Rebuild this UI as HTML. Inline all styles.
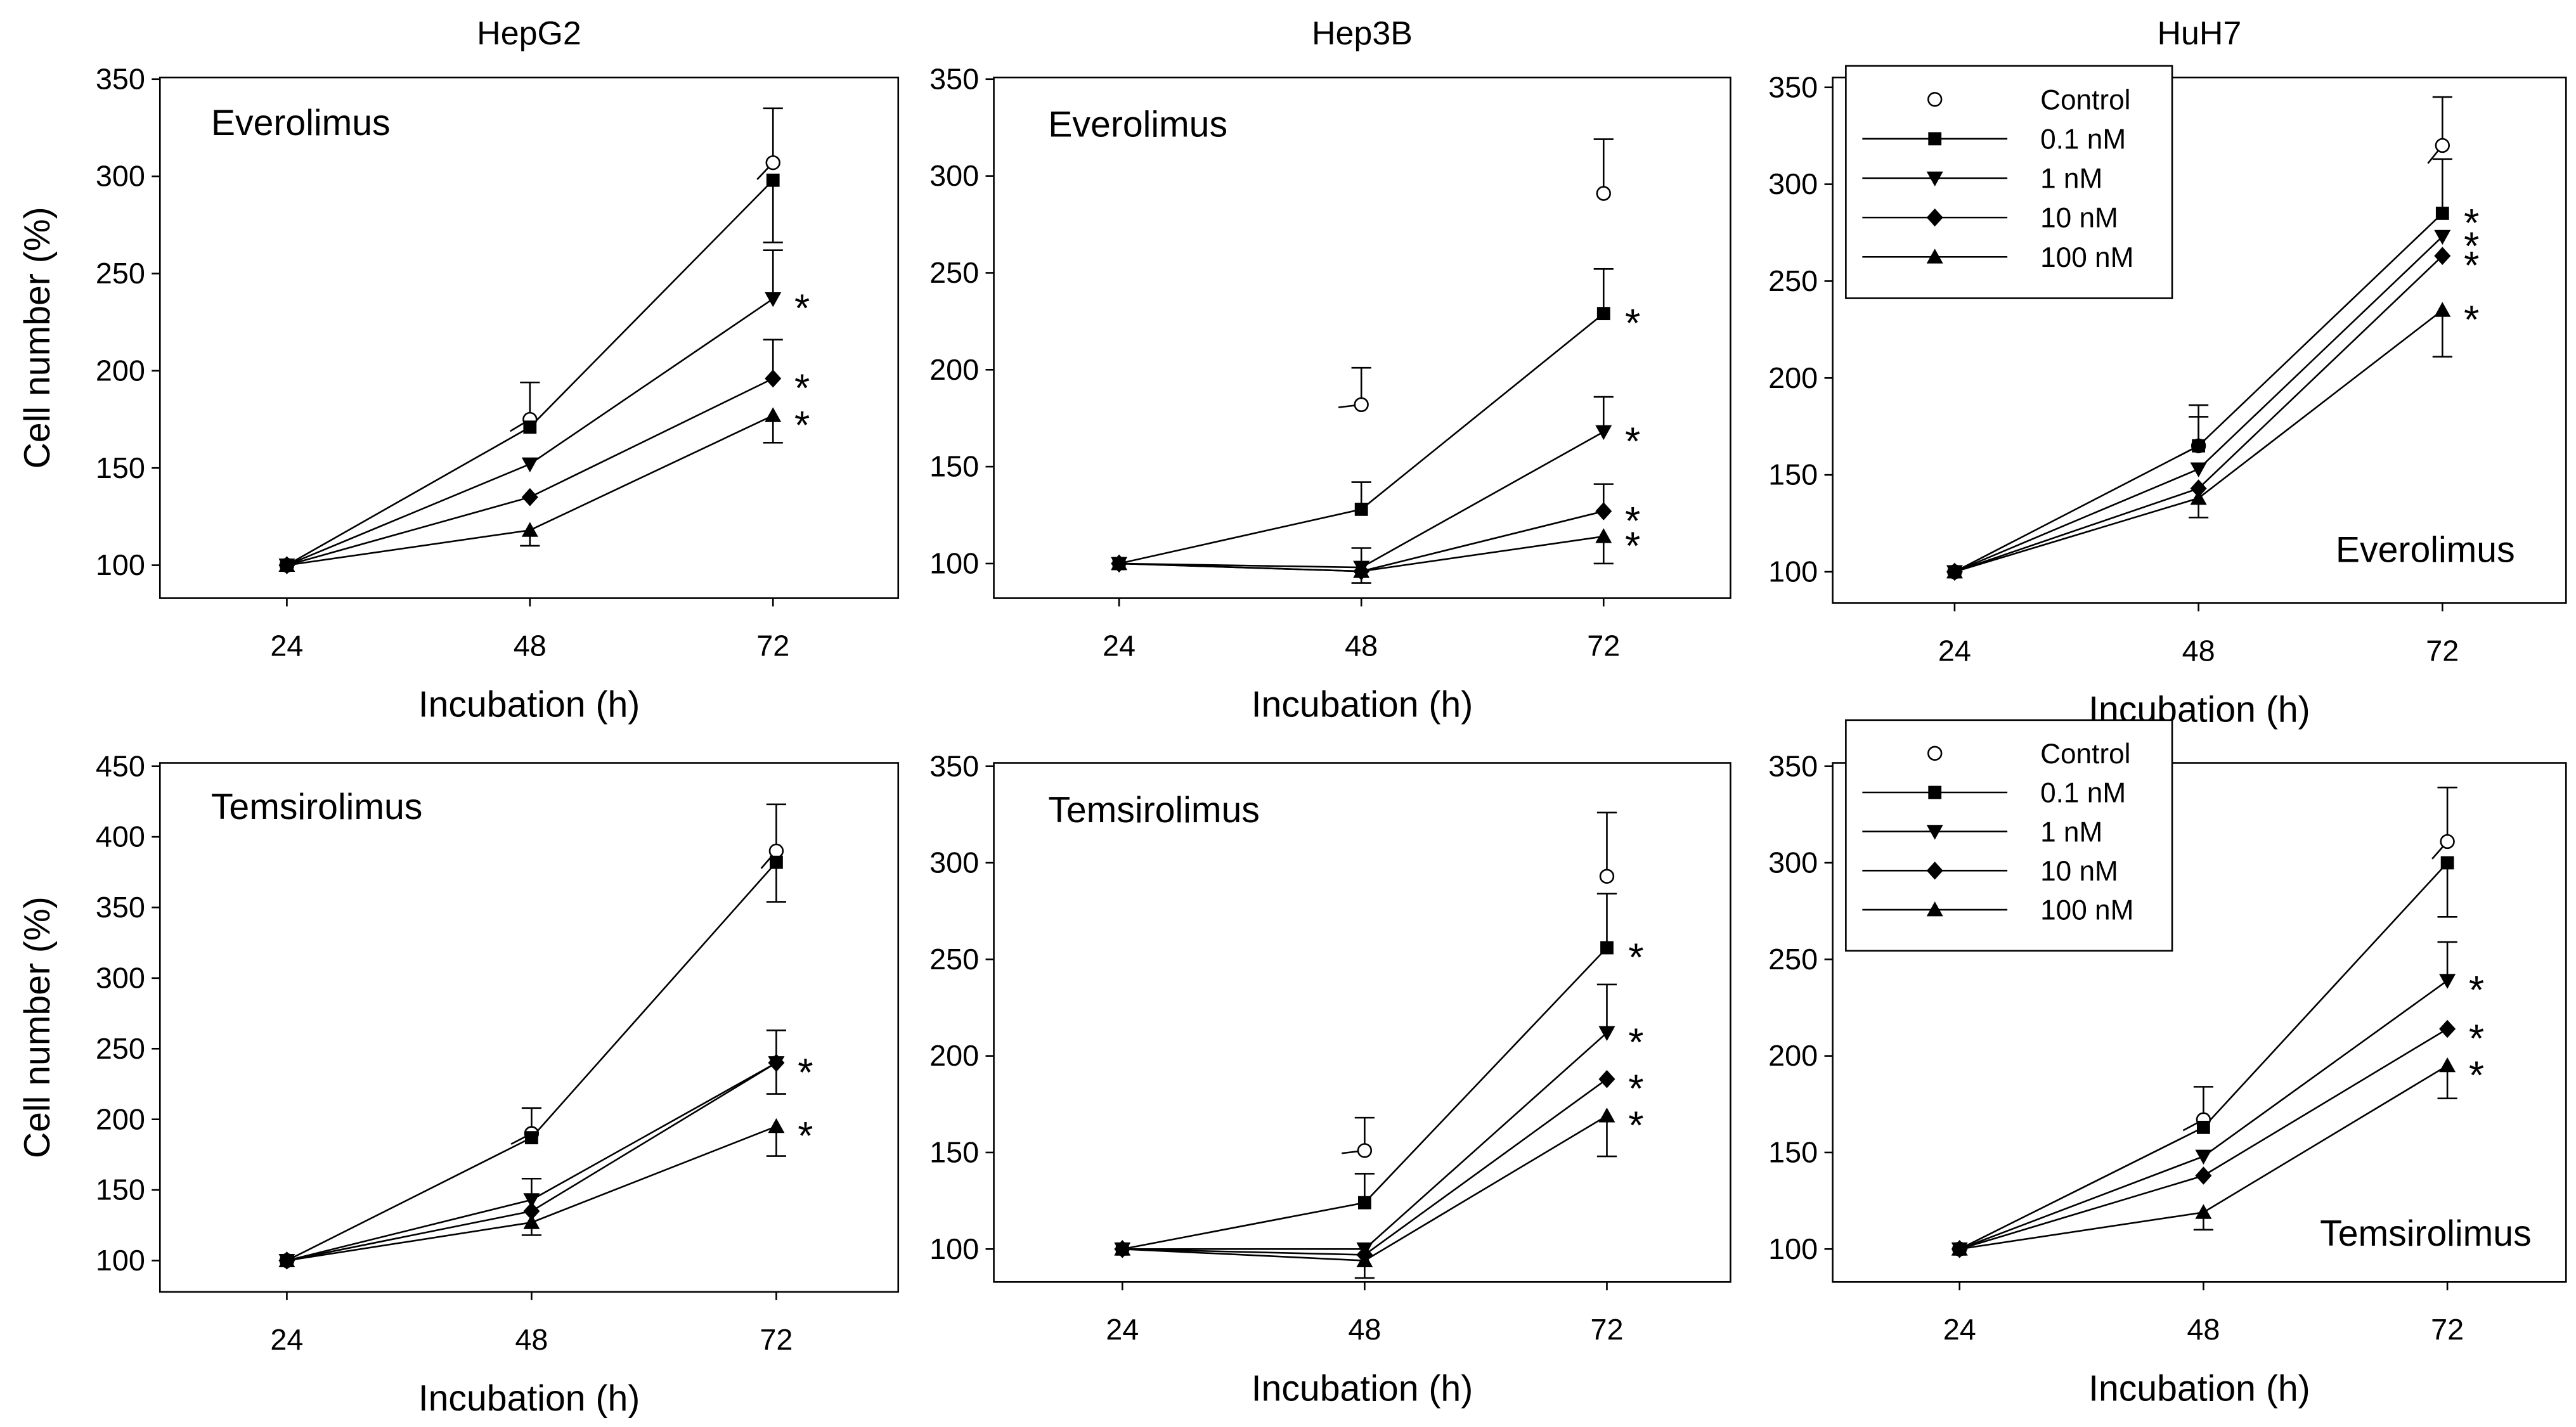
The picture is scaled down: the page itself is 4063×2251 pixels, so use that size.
<!DOCTYPE html>
<html><head><meta charset="utf-8"><style>
html,body{margin:0;padding:0;background:#fff;}
svg{display:block;}
text{font-family:"Liberation Sans",Arial,sans-serif;fill:#000;}
</style></head><body>
<svg id="fig" width="4063" height="2251" viewBox="0 0 1563 866" xmlns="http://www.w3.org/2000/svg"></svg>
<script>
const times = [24, 48, 72];
const seriesNames = ["Control", "0.1 nM", "1 nM", "10 nM", "100 nM"];

const p1Control = [100, 175, 307];
const p1Nm01 = [100, 171, 298];
const p1Nm1 = [100, 152, 237];
const p1Nm10 = [100, 135, 196];
const p1Nm100 = [100, 118, 177];
const p1ErrHi = [[0,194,335],[0,0,0],[0,0,262],[0,0,216],[0,0,0]];
const p1ErrLo = [[0,0,0],[0,0,266],[0,0,0],[0,0,0],[0,110,163]];
const p1Stars = [false,false,true,true,true];

const p2Control = [null, 182, 291];
const p2Nm01 = [100, 128, 229];
const p2Nm1 = [100, 98, 168];
const p2Nm10 = [100, 96, 127];
const p2Nm100 = [100, 96, 114];
const p2ErrHi = [[0,201,319],[0,142,252],[0,108,186],[0,0,141],[0,0,0]];
const p2ErrLo = [[0,0,0],[0,0,0],[0,0,0],[0,0,0],[0,90,100]];
const p2Stars = [false,true,true,true,true];

const p3Control = [100, 165, 320];
const p3Nm01 = [100, 165, 285];
const p3Nm1 = [100, 153, 273];
const p3Nm10 = [100, 143, 263];
const p3Nm100 = [100, 138, 235];
const p3ErrHi = [[0,186,345],[0,180,313],[0,0,0],[0,0,0],[0,0,0]];
const p3ErrLo = [[0,0,0],[0,0,0],[0,0,0],[0,0,0],[0,128,211]];
const p3Stars = [false,true,true,true,true];

const p4Control = [100, 190, 390];
const p4Nm01 = [100, 187, 382];
const p4Nm1 = [100, 143, 240];
const p4Nm10 = [100, 135, 240];
const p4Nm100 = [100, 127, 195];
const p4ErrHi = [[0,208,423],[0,0,0],[0,158,263],[0,0,0],[0,0,0]];
const p4ErrLo = [[0,0,0],[0,0,354],[0,0,0],[0,0,218],[0,118,174]];
const p4Stars = [false,false,true,true,true];

const p5Control = [null, 151, 293];
const p5Nm01 = [100, 124, 256];
const p5Nm1 = [100, 100, 212];
const p5Nm10 = [100, 97, 188];
const p5Nm100 = [100, 94, 169];
const p5ErrHi = [[0,168,326],[0,139,284],[0,0,237],[0,0,0],[0,0,0]];
const p5ErrLo = [[0,0,0],[0,0,0],[0,0,0],[0,0,0],[0,85,148]];
const p5Stars = [false,true,true,true,true];

const p6Control = [100, 167, 311];
const p6Nm01 = [100, 163, 300];
const p6Nm1 = [100, 148, 239];
const p6Nm10 = [100, 138, 214];
const p6Nm100 = [100, 119, 195];
const p6ErrHi = [[0,184,339],[0,0,0],[0,0,259],[0,0,0],[0,0,0]];
const p6ErrLo = [[0,0,0],[0,0,272],[0,0,0],[0,0,0],[0,110,178]];
const p6Stars = [false,false,true,true,true];

const yTicksA = [100,150,200,250,300,350];
const yTicksB = [100,150,200,250,300,350,400,450];

const NS = "http://www.w3.org/2000/svg";
const svg = document.getElementById("fig");
function el(tag, attrs, parent) {
  const e = document.createElementNS(NS, tag);
  for (const k in attrs) e.setAttribute(k, attrs[k]);
  (parent || svg).appendChild(e);
  return e;
}

const panels = [
  {id:"hepg2-everolimus", series:[p1Control,p1Nm01,p1Nm1,p1Nm10,p1Nm100], hi:p1ErrHi, lo:p1ErrLo, stars:p1Stars,
   box:[97,47,545,363], ymin:100, ymax:350, y0:343, y1:48, yt:yTicksA, xs:[174,321,469],
   drug:"Everolimus", drugPos:[128,82,"start"], title:"HepG2", legend:false, stub72:true},
  {id:"hep3b-everolimus", series:[p2Control,p2Nm01,p2Nm1,p2Nm10,p2Nm100], hi:p2ErrHi, lo:p2ErrLo, stars:p2Stars,
   box:[603,47,1050,363], ymin:100, ymax:350, y0:342, y1:48, yt:yTicksA, xs:[679,827,973],
   drug:"Everolimus", drugPos:[636,83,"start"], title:"Hep3B", legend:false, stub72:false},
  {id:"huh7-everolimus", series:[p3Control,p3Nm01,p3Nm1,p3Nm10,p3Nm100], hi:p3ErrHi, lo:p3ErrLo, stars:p3Stars,
   box:[1112,47,1557,366], ymin:100, ymax:350, y0:347, y1:53, yt:yTicksA, xs:[1186,1334,1482],
   drug:"Everolimus", drugPos:[1526,341,"end"], title:"HuH7", legend:[1120,40,1318,181], stub72:true},
  {id:"hepg2-temsirolimus", series:[p4Control,p4Nm01,p4Nm1,p4Nm10,p4Nm100], hi:p4ErrHi, lo:p4ErrLo, stars:p4Stars,
   box:[97,463,545,784], ymin:100, ymax:450, y0:765, y1:465, yt:yTicksB, xs:[174,321,471],
   drug:"Temsirolimus", drugPos:[128,497,"start"], title:null, legend:false, stub72:true},
  {id:"hep3b-temsirolimus", series:[p5Control,p5Nm01,p5Nm1,p5Nm10,p5Nm100], hi:p5ErrHi, lo:p5ErrLo, stars:p5Stars,
   box:[603,463,1050,778], ymin:100, ymax:350, y0:758, y1:465, yt:yTicksA, xs:[681,828,975],
   drug:"Temsirolimus", drugPos:[636,499,"start"], title:null, legend:false, stub72:false},
  {id:"huh7-temsirolimus", series:[p6Control,p6Nm01,p6Nm1,p6Nm10,p6Nm100], hi:p6ErrHi, lo:p6ErrLo, stars:p6Stars,
   box:[1112,463,1557,778], ymin:100, ymax:350, y0:758, y1:465, yt:yTicksA, xs:[1189,1336,1485],
   drug:"Temsirolimus", drugPos:[1536,756,"end"], title:null, legend:[1120,437,1318,577], stub72:true}
];

function marker(g, type, x, y) {
  let m;
  if (type === 0) m = el("circle", {cx:x, cy:y, r:4, fill:"#fff", stroke:"#000", "stroke-width":1}, g);
  else if (type === 1) m = el("rect", {x:x-4, y:y-4, width:8, height:8, fill:"#000"}, g);
  else if (type === 2) m = el("polygon", {points:`${x-5},${y-4} ${x+5},${y-4} ${x},${y+5}`, fill:"#000"}, g);
  else if (type === 3) m = el("polygon", {points:`${x},${y-5.5} ${x+5},${y} ${x},${y+5.5} ${x-5},${y}`, fill:"#000"}, g);
  else m = el("polygon", {points:`${x-5},${y+4} ${x+5},${y+4} ${x},${y-5}`, fill:"#000"}, g);
  
  
  return m;
}

panels.forEach(p => {
  const g = el("g", {});
  
  
  const [bx0, by0, bx1, by1] = p.box;
  const ys = v => p.y0 + (v - p.ymin) * (p.y1 - p.y0) / (p.ymax - p.ymin);
  const xs = i => p.xs[0] + (p.xs[2]-p.xs[0]) * (times[i]-times[0]) / (times[2]-times[0]);

  const frame = el("rect", {x:bx0, y:by0, width:bx1-bx0, height:by1-by0, fill:"none", stroke:"#000", "stroke-width":1}, g);
  
  

  p.yt.forEach(v => {
    const y = ys(v);
    el("line", {x1:bx0-5, y1:y, x2:bx0, y2:y, stroke:"#000", "stroke-width":1}, g);
    const t = el("text", {x:bx0-9, y:y+6, "text-anchor":"end", "font-size":18}, g);
    t.textContent = v;
    
    
  });
  times.forEach((tv, i) => {
    const x = xs(i);
    el("line", {x1:x, y1:by1, x2:x, y2:by1+5, stroke:"#000", "stroke-width":1}, g);
    const t = el("text", {x:x, y:by1+35, "text-anchor":"middle", "font-size":18}, g);
    t.textContent = tv;
    
    
  });
  const xl = el("text", {x:(bx0+bx1)/2, y:by1+72, "text-anchor":"middle", "font-size":22}, g);
  xl.textContent = "Incubation (h)";
  
  
  if (bx0 < 200) {
    const cy = (by0+by1)/2;
    const yl = el("text", {x:0, y:0, "text-anchor":"middle", "font-size":22, transform:`translate(30,${cy}) rotate(-90)`}, g);
    yl.textContent = "Cell number (%)";
    
    
  }
  if (p.title) {
    const tt = el("text", {x:(bx0+bx1)/2, y:27, "text-anchor":"middle", "font-size":20}, g);
    tt.textContent = p.title;
    
    
  }
  const dl = el("text", {x:p.drugPos[0], y:p.drugPos[1], "text-anchor":p.drugPos[2], "font-size":22}, g);
  dl.textContent = p.drug;
  
  

  p.series.forEach((s, si) => {
    s.forEach((v, i) => {
      if (v == null) return;
      const x = xs(i);
      [p.hi[si][i], p.lo[si][i]].forEach(e => {
        if (!e) return;
        const b = el("path", {d:`M${x},${ys(v)}V${ys(e)}M${x-6},${ys(e)}H${x+6}`, stroke:"#000", "stroke-width":1, fill:"none"}, g);
        
        
      });
    });
  });
  p.series.forEach((s, si) => {
    if (si === 0) {
      for (let i = 1; i < s.length; i++) {
        if (s[i] == null) continue;
        if (i === 2 && !p.stub72) continue;
        const prev = s[i-1] == null ? s[i] - 15 : s[i-1];
        const x2 = xs(i), y2 = ys(s[i]), x1 = xs(i-1), y1 = ys(prev);
        const L = Math.hypot(x2-x1, y2-y1), d = 14;
        const st = el("line", {x1:x2 - (x2-x1)*d/L, y1:y2 - (y2-y1)*d/L, x2:x2, y2:y2, stroke:"#000", "stroke-width":1}, g);
        
        
      }
      return;
    }
    const pts = s.map((v, i) => `${xs(i)},${ys(v)}`).join(" ");
    const pl = el("polyline", {points:pts, fill:"none", stroke:"#000", "stroke-width":1}, g);
    
    
  });
  p.series.forEach((s, si) => {
    s.forEach((v, i) => { if (v != null) marker(g, si, xs(i), ys(v)); });
  });
  p.series.forEach((s, si) => {
    if (!p.stars[si]) return;
    const st = el("text", {x:xs(2)+13, y:ys(s[2])+14, "font-size":24}, g);
    st.textContent = "*";
    
    
  });
  if (p.legend) {
    const [lx0, ly0, lx1, ly1] = p.legend;
    const lg = el("g", {}, g);
    
    
    el("rect", {x:lx0, y:ly0, width:lx1-lx0, height:ly1-ly0, fill:"#fff", stroke:"#000", "stroke-width":1}, lg);
    const step = (ly1-ly0)/5.9;
    seriesNames.forEach((n, si) => {
      const y = ly0 + step*0.85 + si*step;
      const ent = el("g", {}, lg);
      
      
      if (si > 0) el("line", {x1:lx0+10, y1:y, x2:lx0+98, y2:y, stroke:"#000", "stroke-width":1}, ent);
      marker(ent, si, lx0+54, y);
      const t = el("text", {x:lx0+118, y:y+6, "font-size":17}, ent);
      t.textContent = n;
    });
  }
});
</script>
</body></html>
